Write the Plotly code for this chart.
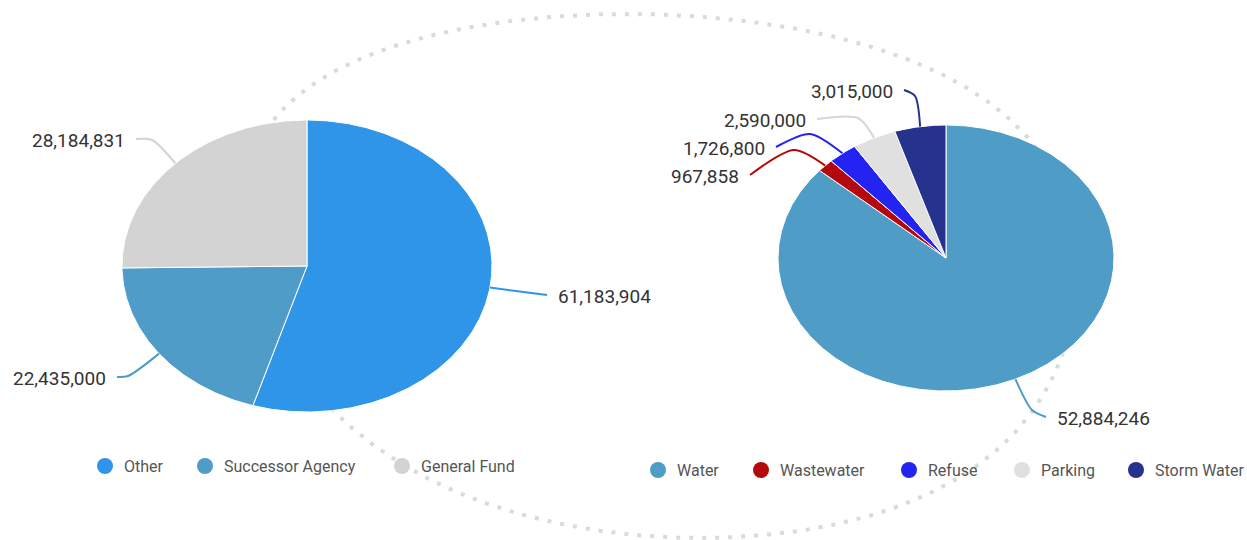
import numpy as np
import plotly.graph_objects as go

# ---- data -------------------------------------------------------------
fund_names = ["Other", "Successor Agency", "General Fund"]
fund_values = [61183904, 22435000, 28184831]
fund_colors = ["#2f95e8", "#4f9cc8", "#d3d3d3"]

utility_names = ["Water", "Wastewater", "Refuse", "Parking", "Storm Water"]
utility_values = [52884246, 967858, 1726800, 2590000, 3015000]
utility_colors = ["#4f9dc7", "#b5080c", "#2424f2", "#e0e0e0", "#25328e"]

# ---- layout constants ---------------------------------------------------
W, H = 1247, 540
FONT = "Roboto"
LABEL_COLOR = "#333333"
LEGEND_COLOR = "#555555"

LEFT_PIE = dict(cx=307, cy=266, rx=185, ry=146)
RIGHT_PIE = dict(cx=946, cy=258, rx=168, ry=133)

# data-label placement: text anchor point, side the text extends to, connector elbow
LEFT_LABELS = [
    dict(tx=556, ty=296, side="left", elbow=None),
    dict(tx=108, ty=378, side="right", elbow=(128, 376)),
    dict(tx=127, ty=140, side="right", elbow=(152, 140)),
]
RIGHT_LABELS = [
    dict(tx=1055, ty=418, side="left", elbow=(1032, 410)),
    dict(tx=741, ty=176, side="right", elbow=(794, 150)),
    dict(tx=767, ty=148, side="right", elbow=(810, 134)),
    dict(tx=808, ty=120, side="right", elbow=(858, 118)),
    dict(tx=895, ty=91, side="right", elbow=(915, 96)),
]

LEFT_LEGEND = dict(y=466, xs=[105, 205, 402])
RIGHT_LEGEND = dict(y=470, xs=[658, 761, 909, 1022, 1136])

# decorative dotted ring behind the pies (slightly sheared, wider at the top)
RING = dict(cx=664, cy=276, a=428, b=262, taper=41, shear=37, lobe=-15)

fig = go.Figure()


def add_ring():
    t = np.linspace(0, 2 * np.pi, 721)
    c, s = np.cos(t), np.sin(t)
    x = (RING["cx"] + RING["a"] * c - RING["taper"] * c * s + RING["shear"] * s
         + RING["lobe"] * np.cos(3 * t))
    y = RING["cy"] + RING["b"] * s
    fig.add_trace(go.Scatter(
        x=x, y=y, mode="lines",
        line=dict(color="#dadada", width=4, dash="4px,9px"),
        hoverinfo="skip", showlegend=False,
    ))


def ellipse_point(geom, ang_deg):
    a = np.radians(ang_deg)
    return geom["cx"] + geom["rx"] * np.sin(a), geom["cy"] - geom["ry"] * np.cos(a)


def add_pie(names, values, colors, geom, labels):
    total = float(sum(values))
    start = 0.0
    for name, val, col, lab in zip(names, values, colors, labels):
        sweep = 360.0 * val / total
        angs = np.linspace(start, start + sweep, max(4, int(sweep * 2)))
        px, py = ellipse_point(geom, angs)
        xs = np.concatenate([[geom["cx"]], px, [geom["cx"]]])
        ys = np.concatenate([[geom["cy"]], py, [geom["cy"]]])
        fig.add_trace(go.Scatter(
            x=xs, y=ys, mode="lines", fill="toself", fillcolor=col,
            line=dict(color="white", width=1),
            name=name, hovertemplate=f"{name}: {val:,}<extra></extra>",
            showlegend=False,
        ))

        # connector from the slice mid-point to the label
        ex, ey = ellipse_point(geom, start + sweep / 2)
        gap = 9 if lab["side"] == "right" else -9
        end = (lab["tx"] + gap, lab["ty"] - 1)
        pts = [(ex, ey)] + ([lab["elbow"]] if lab["elbow"] else []) + [end]
        fig.add_trace(go.Scatter(
            x=[p[0] for p in pts], y=[p[1] for p in pts], mode="lines",
            line=dict(color="#d6d6d6" if col == "#e0e0e0" else col, width=2,
                      shape="spline", smoothing=0.8),
            hoverinfo="skip", showlegend=False,
        ))
        fig.add_annotation(
            x=lab["tx"], y=lab["ty"], text=f"{val:,}", showarrow=False,
            xanchor="left" if lab["side"] == "left" else "right", yanchor="middle",
            font=dict(family=FONT, size=19, color=LABEL_COLOR),
        )
        start += sweep


def add_legend(names, colors, leg):
    fig.add_trace(go.Scatter(
        x=leg["xs"], y=[leg["y"]] * len(names), mode="markers",
        marker=dict(size=16, color=colors, symbol="circle"),
        hoverinfo="skip", showlegend=False,
    ))
    for name, x in zip(names, leg["xs"]):
        fig.add_annotation(
            x=x + 17, y=leg["y"], text=name, showarrow=False,
            xanchor="left", yanchor="middle",
            font=dict(family=FONT, size=16, color=LEGEND_COLOR),
        )


add_ring()
add_pie(fund_names, fund_values, fund_colors, LEFT_PIE, LEFT_LABELS)
add_pie(utility_names, utility_values, utility_colors, RIGHT_PIE, RIGHT_LABELS)
add_legend(fund_names, fund_colors, LEFT_LEGEND)
add_legend(utility_names, utility_colors, RIGHT_LEGEND)

fig.update_layout(
    width=W, height=H,
    margin=dict(l=0, r=0, t=0, b=0),
    paper_bgcolor="white", plot_bgcolor="white",
    xaxis=dict(range=[0, W], visible=False, fixedrange=True),
    yaxis=dict(range=[H, 0], visible=False, fixedrange=True),
    showlegend=False,
)

fig.write_html("out.html")
